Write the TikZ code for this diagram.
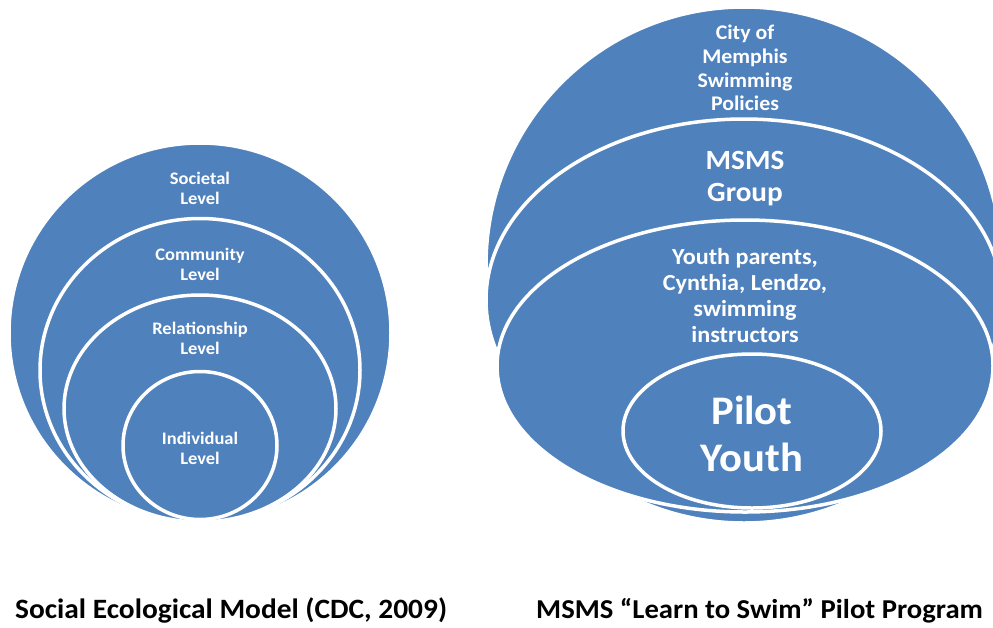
\documentclass[tikz,border=0pt]{standalone}
\usepackage{fontspec}
\setmainfont{Carlito}[FakeStretch=1.05]
\definecolor{ringblue}{RGB}{79,129,189}
\begin{document}
\begin{tikzpicture}[x=1pt,y=-1pt,
  ring/.style={fill=ringblue,draw=white,line width=3.5pt},
  lbl/.style={text=white,align=center,inner sep=0pt},
  caption/.style={font=\bfseries\fontsize{28}{32}\selectfont,anchor=base west,inner sep=0pt}]
\useasboundingbox (0,0) rectangle (993,627);

% Social ecological model: bottom-aligned nested levels
\path[ring] (200,333) ellipse [x radius=191pt,y radius=190pt];
\path[ring] (200,370.25) ellipse [x radius=160pt,y radius=151.75pt];
\path[ring] (200,408.5) ellipse [x radius=136pt,y radius=113.5pt];
\path[ring] (200,445.5) ellipse [x radius=77pt,y radius=74pt];

\tikzset{small/.style={lbl,font=\bfseries\fontsize{17.6}{20}\selectfont}}
\node[small] (societal) at (200,188) {Societal\\Level};
\node[small] (community) at (200,264) {Community\\Level};
\node[small] (relationship) at (200,338) {Relationship\\Level};
\node[small] (individual) at (200,448.5) {Individual\\Level};

% Learn to Swim pilot program layers
\path[ring] (744,265) circle [radius=258pt];
\path[ring] (744,300) ellipse [x radius=258pt,y radius=181pt];
\path[ring] (745,366) ellipse [x radius=248pt,y radius=146pt];
\path[ring] (752,431) ellipse [x radius=129pt,y radius=77pt];

\node[lbl,font=\bfseries\fontsize{20.8}{23.7}\selectfont] (city) at (745,68) {City of\\Memphis\\Swimming\\Policies};
\node[lbl,font=\bfseries\fontsize{27.8}{32}\selectfont] (msms) at (745,179) {MSMS\\Group};
\node[lbl,font=\bfseries\fontsize{23}{26.3}\selectfont] (parents) at (745,295.5) {Youth parents,\\Cynthia, Lendzo,\\swimming\\instructors};
\node[lbl,font=\bfseries\fontsize{40.6}{47}\selectfont] (pilot) at (752,433.5) {Pilot\\Youth};

% captions
\node[caption] (capleft) at (15,618) {Social Ecological Model (CDC, 2009)};
\node[caption,font=\bfseries\fontsize{27.3}{32}\selectfont] (capright) at (536,618) {MSMS “Learn to Swim” Pilot Program};
\end{tikzpicture}
\end{document}
